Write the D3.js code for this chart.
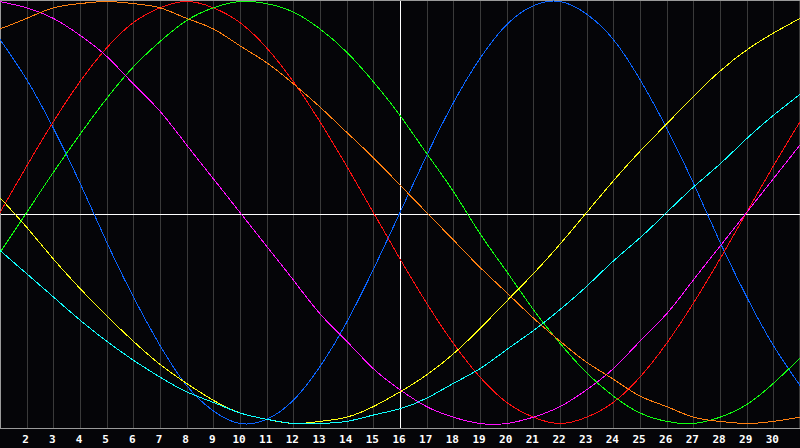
<!DOCTYPE html>
<html>
<head>
<meta charset="utf-8">
<script src="https://cdn.jsdelivr.net/npm/d3@7"></script>
<style>
  html, body { margin: 0; padding: 0; background: #050508; overflow: hidden; }
</style>
</head>
<body>
<div class="container"></div>
<script>
const size = {
    width: 800,
    height: 448
};

// days shown on the chart (1..31), labels only for 2..30
const days = d3.range(1, 32);
const tickDays = d3.range(2, 31);
const todayDay = 16;

// cycle values per day, in percent
const physical = [82, 63, 40, 14, -14, -40, -63, -82, -94, -100, -98, -89, -73, -52, -27, 0,
    27, 52, 73, 89, 98, 100, 94, 82, 63, 40, 14, -14, -40, -63, -82];
const emotional = [0, 22, 43, 62, 78, 90, 97, 100, 97, 90, 78, 62, 43, 22, 0, -22,
    -43, -62, -78, -90, -97, -100, -97, -90, -78, -62, -43, -22, 0, 22, 43];
const intellectual = [-19, 0, 19, 37, 54, 69, 81, 91, 97, 100, 99, 95, 87, 76, 62, 46,
    28, 10, -10, -28, -46, -62, -76, -87, -95, -99, -100, -97, -91, -81, -69];
const intuitive = [100, 97, 92, 84, 74, 61, 48, 32, 16, 0, -16, -32, -48, -61, -74, -84,
    -92, -97, -100, -100, -97, -92, -84, -74, -61, -48, -32, -16, 0, 16, 32];
const aesthetic = [7, -7, -22, -36, -49, -61, -72, -81, -89, -95, -98, -100, -99, -97, -92, -85,
    -77, -67, -55, -42, -29, -15, 0, 15, 29, 42, 55, 67, 77, 85, 92];
const awareness = [87, 92, 97, 99, 100, 99, 97, 92, 87, 79, 71, 61, 50, 38, 26, 13,
    0, -13, -26, -38, -50, -61, -71, -79, -87, -92, -97, -99, -100, -99, -97];
const spiritual = [-18, -29, -40, -51, -61, -70, -78, -85, -90, -95, -98, -100, -100, -99, -96, -93,
    -88, -81, -74, -65, -56, -46, -35, -23, -12, 0, 12, 23, 35, 46, 56];

const series = [
    {name: "physical", color: "#0a64ff", values: physical},
    {name: "emotional", color: "#ff1010", values: emotional},
    {name: "intellectual", color: "#10ff10", values: intellectual},
    {name: "intuitive", color: "#ff10ff", values: intuitive},
    {name: "aesthetic", color: "#ffff10", values: aesthetic},
    {name: "awareness", color: "#ff8010", values: awareness},
    {name: "spiritual", color: "#10ffff", values: spiritual}
];

const plotBottom = 428;

const svg = d3.select(".container")
              .append("svg")
              .attr("width", size.width)
              .attr("height", size.height)
              .style("display", "block");

svg.append("rect")
    .attr("width", size.width)
    .attr("height", size.height)
    .attr("fill", "#050508");

const x = d3.scaleLinear()
            .domain([1, 31])
            .range([0, size.width]);

const y = d3.scaleLinear()
            .domain([-100, 100])
            .range([423.5, 1.5]);

const px = (d) => Math.min(Math.round(x(d)), size.width - 1) + 0.5;

// vertical day grid
svg.append("g")
    .selectAll("line")
    .data(days.slice(1))
    .enter()
        .append("line")
        .attr("x1", px)
        .attr("x2", px)
        .attr("y1", 0)
        .attr("y2", plotBottom)
        .attr("stroke", (d) => d == todayDay ? "#ffffff" : "#3a3a3a")
        .attr("stroke-width", 1)
        .attr("shape-rendering", "crispEdges");

// frame: top, left, bottom
const frame = svg.append("g")
    .attr("stroke", "#9a9a9a")
    .attr("shape-rendering", "crispEdges");
frame.append("line").attr("x1", 0).attr("x2", size.width).attr("y1", 0.5).attr("y2", 0.5);
frame.append("line").attr("x1", 0.5).attr("x2", 0.5).attr("y1", 0).attr("y2", plotBottom + 1);
frame.append("line").attr("x1", 0).attr("x2", size.width).attr("y1", plotBottom + 0.5).attr("y2", plotBottom + 0.5);

// zero line
svg.append("line")
    .attr("x1", 1)
    .attr("x2", size.width)
    .attr("y1", plotBottom / 2 + 0.5)
    .attr("y2", plotBottom / 2 + 0.5)
    .attr("stroke", "#ffffff")
    .attr("shape-rendering", "crispEdges");

const linea = d3.line()
    .x((d, i) => x(days[i]))
    .y((d) => y(d))
    .curve(d3.curveNatural);

svg.append("g")
    .selectAll("path")
    .data(series)
    .enter()
        .append("path")
        .attr("class", (d) => d.name)
        .attr("d", (d) => linea(d.values))
        .attr("fill", "none")
        .attr("stroke", (d) => d.color)
        .attr("stroke-width", 1)
        .attr("shape-rendering", "crispEdges");

// day labels
svg.append("g")
    .selectAll("text")
    .data(tickDays)
    .enter()
        .append("text")
        .attr("x", (d) => x(d) - 1)
        .attr("y", 443)
        .attr("text-anchor", "middle")
        .attr("fill", "#ffffff")
        .attr("font-family", "'DejaVu Sans Mono', monospace")
        .attr("font-weight", "bold")
        .attr("font-size", 11)
        .text((d) => d);
</script>
</body>
</html>
